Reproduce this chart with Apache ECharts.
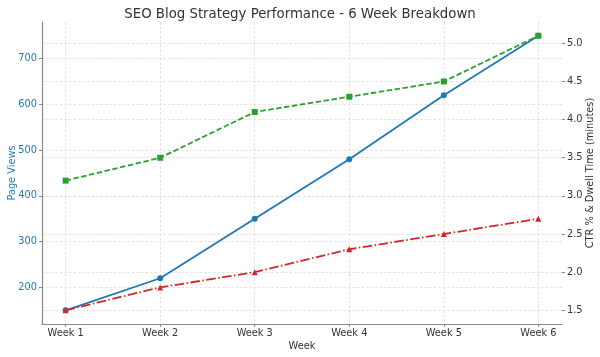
<!DOCTYPE html>
<html>
<head>
<meta charset="utf-8">
<script src="https://cdn.jsdelivr.net/npm/echarts@6/dist/echarts.min.js"></script>
<style>html,body{margin:0;padding:0;background:#fff;}#c{width:600px;height:357px;}</style>
</head>
<body>
<div id="c"></div>
<script>
const weeks = ['Week 1','Week 2','Week 3','Week 4','Week 5','Week 6'];
const pageViews = [150, 220, 350, 480, 620, 750];
const ctr = [1.5, 1.8, 2.0, 2.3, 2.5, 2.7];
const dwellTime = [3.2, 3.5, 4.1, 4.3, 4.5, 5.1];
const leftTicks = [200, 300, 400, 500, 600, 700];
const rightTicks = [1.5, 2.0, 2.5, 3.0, 3.5, 4.0, 4.5, 5.0];
const xTicks = weeks.map((w, i) => i);

const FONT = 'DejaVu Sans';
const gridLine = {show: true, lineStyle: {color: '#dcdcdc', width: 0.8, type: [2.5, 2]}};

const chart = echarts.init(document.getElementById('c'), null, {renderer: 'canvas'});
chart.setOption({
  animation: false,
  backgroundColor: '#fff',
  textStyle: {fontFamily: FONT},
  title: {
    text: 'SEO Blog Strategy Performance - 6 Week Breakdown',
    left: 'center', top: 3,
    textStyle: {fontFamily: FONT, fontSize: 13.3, fontWeight: 'normal', color: '#333'}
  },
  grid: {left: 42, right: 38, top: 22, bottom: 33, containLabel: false, outerBoundsMode: 'none'},
  xAxis: {
    type: 'value', min: -0.25, max: 5.25,
    name: 'Week', nameLocation: 'middle', nameGap: 17, nameMoveOverlap: false,
    nameTextStyle: {fontFamily: FONT, fontSize: 9.8, color: '#333'},
    axisLine: {show: true, onZero: false, lineStyle: {color: '#888', width: 1.2}},
    axisTick: {show: true, customValues: xTicks, length: 3, lineStyle: {color: '#888'}},
    axisLabel: {customValues: xTicks, formatter: v => weeks[Math.round(v)], fontFamily: FONT, fontSize: 9.8, color: '#333', margin: 4},
    splitLine: gridLine
  },
  yAxis: [{
    type: 'value', min: 120, max: 780, position: 'left',
    name: 'Page Views', nameLocation: 'middle', nameGap: 25, nameRotate: 90, nameMoveOverlap: false,
    nameTextStyle: {fontFamily: FONT, fontSize: 9.8, color: '#1f77b4'},
    axisLine: {show: true, onZero: false, lineStyle: {color: '#888', width: 1.2}},
    axisTick: {show: true, customValues: leftTicks, length: 3, lineStyle: {color: '#888'}},
    axisLabel: {customValues: leftTicks, fontFamily: FONT, fontSize: 9.8, color: '#1f77b4', margin: 5},
    splitLine: gridLine
  }, {
    type: 'value', min: 1.32, max: 5.28, position: 'right',
    name: 'CTR % & Dwell Time (minutes)', nameLocation: 'middle', nameGap: 23, nameRotate: 90, nameMoveOverlap: false,
    nameTextStyle: {fontFamily: FONT, fontSize: 9.8, color: '#333'},
    axisLine: {show: false, onZero: false},
    axisTick: {show: true, customValues: rightTicks, length: 3, lineStyle: {color: '#888'}},
    axisLabel: {customValues: rightTicks, formatter: v => v.toFixed(1), fontFamily: FONT, fontSize: 9.8, color: '#333', margin: 5},
    splitLine: gridLine
  }],
  series: [{
    name: 'Page Views', type: 'line', yAxisIndex: 0,
    data: pageViews.map((v, i) => [i, v]),
    symbol: 'circle', symbolSize: 6,
    itemStyle: {color: '#1f77b4'},
    lineStyle: {color: '#1f77b4', width: 1.8}
  }, {
    name: 'CTR', type: 'line', yAxisIndex: 1,
    data: ctr.map((v, i) => [i, v]),
    symbol: 'triangle', symbolSize: 6,
    itemStyle: {color: '#d62728'},
    lineStyle: {color: '#d62728', width: 1.8, type: [9.5, 2.5, 1.5, 2.5]}
  }, {
    name: 'Dwell Time', type: 'line', yAxisIndex: 1,
    data: dwellTime.map((v, i) => [i, v]),
    symbol: 'rect', symbolSize: 6,
    itemStyle: {color: '#2ca02c'},
    lineStyle: {color: '#2ca02c', width: 1.8, type: [5.5, 2.5]}
  }]
});
</script>
</body>
</html>
